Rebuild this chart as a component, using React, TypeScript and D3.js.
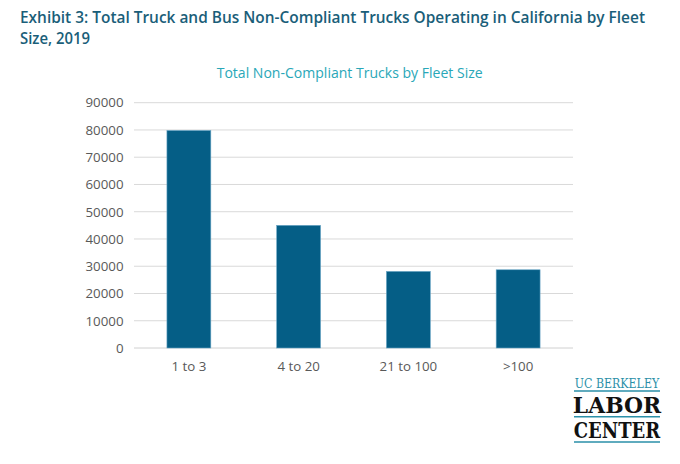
import React from "react";
import * as d3 from "d3";

const categories: string[] = ["1 to 3", "4 to 20", "21 to 100", ">100"];
const values: number[] = [79800, 45000, 28100, 28700];
const yTicks: number[] = [0, 10000, 20000, 30000, 40000, 50000, 60000, 70000, 80000, 90000];

const W = 680;
const H = 464;
const plot = { left: 134, right: 573, top: 102.7, bottom: 348 };

export default function App() {
  const x = d3
    .scaleBand<string>()
    .domain(categories)
    .range([plot.left, plot.right])
    .paddingInner(0.6)
    .paddingOuter(0.3);
  const y = d3.scaleLinear().domain([0, 90000]).range([plot.bottom, plot.top]);
  const font = "'Open Sans', 'Noto Sans', sans-serif";
  const teal = "#2a8fa8";
  const serif = "'DejaVu Serif', serif";

  return (
    <div style={{ position: "absolute", left: 0, top: 0 }}>
      <svg width={W} height={H} style={{ display: "block", background: "#fff" }}>
        <text x={20} y={22.5} fontFamily={font} fontWeight={600} fontSize={15.5} fill="#1a5e79" textLength={625} lengthAdjust="spacingAndGlyphs">
          Exhibit 3: Total Truck and Bus Non-Compliant Trucks Operating in California by Fleet
        </text>
        <text x={20} y={43.5} fontFamily={font} fontWeight={600} fontSize={15.5} fill="#1a5e79" textLength={70} lengthAdjust="spacingAndGlyphs">
          Size, 2019
        </text>
        <text x={349.7} y={77.5} textAnchor="middle" fontFamily={font} fontSize={14.5} fill="#29a7b8" textLength={266} lengthAdjust="spacingAndGlyphs">
          Total Non-Compliant Trucks by Fleet Size
        </text>

        {yTicks.map((t) => (
          <g key={t}>
            <line x1={plot.left} x2={plot.right} y1={y(t)} y2={y(t)} stroke={t === 0 ? "#d0d0d0" : "#d9d9d9"} strokeWidth={1} />
            <text x={123.5} y={y(t)} dy="0.36em" textAnchor="end" fontFamily={font} fontSize={13.3} fill="#595959">
              {t}
            </text>
          </g>
        ))}

        {categories.map((c, i) => (
          <rect
            key={c}
            x={x(c)}
            y={y(values[i])}
            width={x.bandwidth()}
            height={y(0) - y(values[i])}
            fill="#055e86"
            stroke="#6aa6c6"
            strokeWidth={0.6}
          />
        ))}

        {categories.map((c) => (
          <text key={c} x={(x(c) as number) + x.bandwidth() / 2} y={370.5} textAnchor="middle" fontFamily={font} fontSize={13.3} fill="#595959">
            {c}
          </text>
        ))}

        <g>
          <text transform="translate(617,387.5) scale(0.88,1)" textAnchor="middle" fontFamily={serif} fontSize={12.5} fill={teal}>
            UC BERKELEY
          </text>
          <line x1={574} x2={660} y1={391} y2={391} stroke={teal} strokeWidth={1.4} />
          <text transform="translate(617,412.5) scale(0.95,1)" textAnchor="middle" fontFamily={serif} fontWeight="bold" fontSize={23} fill="#111">
            LABOR
          </text>
          <line x1={574} x2={660} y1={416.8} y2={416.8} stroke={teal} strokeWidth={1.4} />
          <text transform="translate(617,438.4) scale(0.8,1)" textAnchor="middle" fontFamily={serif} fontWeight="bold" fontSize={22.5} fill="#111">
            CENTER
          </text>
          <line x1={574} x2={660} y1={442} y2={442} stroke={teal} strokeWidth={1.4} />
        </g>
      </svg>
    </div>
  );
}
